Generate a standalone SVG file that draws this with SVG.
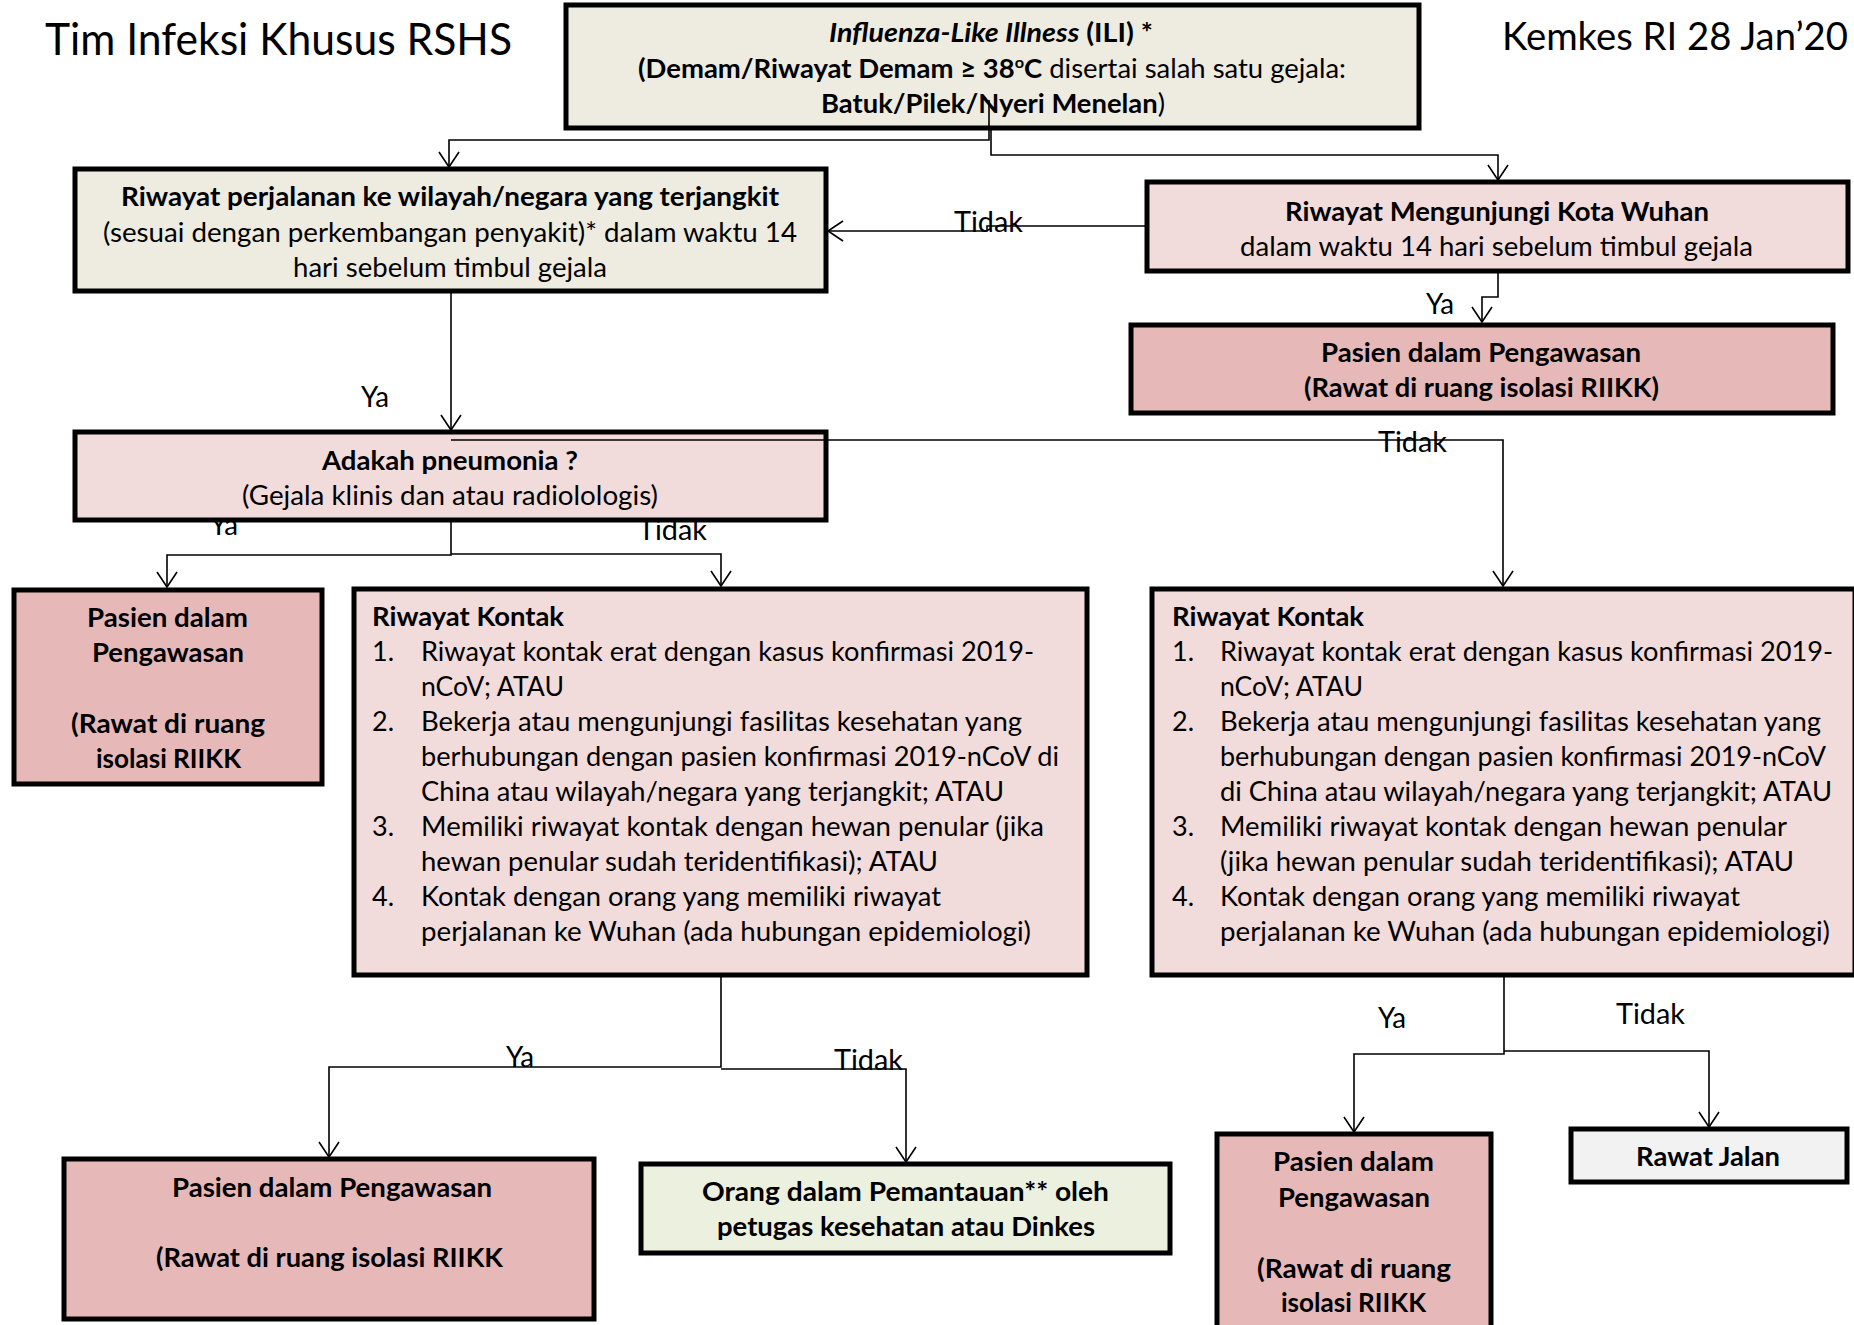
<svg xmlns="http://www.w3.org/2000/svg" width="1854" height="1325" viewBox="0 0 1854 1325">
<defs>
<style>
text{font-family:Lato,"Liberation Sans",sans-serif;font-size:27px;fill:#000}
.b{font-weight:bold}
.lbl{font-size:28px}
.box{stroke:#000;stroke-width:5}
.beige{fill:#EEECE1}
.pink{fill:#F2DCDB}
.rose{fill:#E6B9B8}
.green{fill:#EBF1DE}
.grey{fill:#F2F2F2}
.conn{fill:none;stroke:#000;stroke-width:1.6;marker-end:url(#arr)}
</style>
<marker id="arr" markerUnits="userSpaceOnUse" markerWidth="20" markerHeight="24" viewBox="-17 -12 20 24" refX="0" refY="0" orient="auto" overflow="visible">
<path d="M-15,-10 L0,0 L-15,10" fill="none" stroke="#000" stroke-width="1.6"/>
</marker>
</defs>
<rect width="1854" height="1325" fill="#fff"/>

<g id="titles">
<text x="45" y="55" style="font-size:44px" textLength="467" lengthAdjust="spacingAndGlyphs">Tim Infeksi Khusus RSHS</text>
<text x="1502" y="50" style="font-size:39px" textLength="346" lengthAdjust="spacingAndGlyphs">Kemkes RI 28 Jan’20</text>
</g>

<g id="labels">
<text class="lbl" x="954" y="232" textLength="69" lengthAdjust="spacingAndGlyphs">Tidak</text>
<text class="lbl" x="1426" y="314" textLength="28" lengthAdjust="spacingAndGlyphs">Ya</text>
<text class="lbl" x="361" y="407" textLength="28" lengthAdjust="spacingAndGlyphs">Ya</text>
<text class="lbl" x="1378" y="452" textLength="69" lengthAdjust="spacingAndGlyphs">Tidak</text>
<text class="lbl" x="210" y="535" textLength="28" lengthAdjust="spacingAndGlyphs">Ya</text>
<text class="lbl" x="638" y="540" textLength="69" lengthAdjust="spacingAndGlyphs">Tidak</text>
<text class="lbl" x="506" y="1067" textLength="28" lengthAdjust="spacingAndGlyphs">Ya</text>
<text class="lbl" x="834" y="1070" textLength="69" lengthAdjust="spacingAndGlyphs">Tidak</text>
<text class="lbl" x="1378" y="1028" textLength="28" lengthAdjust="spacingAndGlyphs">Ya</text>
<text class="lbl" x="1616" y="1024" textLength="69" lengthAdjust="spacingAndGlyphs">Tidak</text>
</g>

<g id="node-ili">
<rect class="box beige" x="566" y="5" width="853" height="123"/>
<text x="829" y="42" textLength="324" lengthAdjust="spacingAndGlyphs"><tspan class="b" font-style="italic">Influenza-Like Illness</tspan><tspan class="b"> (ILI) *</tspan></text>
<text x="638" y="78" textLength="708" lengthAdjust="spacingAndGlyphs"><tspan class="b">(Demam/Riwayat Demam ≥ 38</tspan><tspan class="b" style="font-size:16px" dy="-10">o</tspan><tspan class="b" dy="10">C</tspan><tspan> disertai salah satu gejala:</tspan></text>
<text x="821" y="113" textLength="344" lengthAdjust="spacingAndGlyphs"><tspan class="b">Batuk/Pilek/Nyeri Menelan</tspan><tspan>)</tspan></text>
</g>

<g id="node-riwayat-perjalanan">
<rect class="box beige" x="75" y="169" width="751" height="122"/>
<text class="b" x="121" y="206" textLength="658" lengthAdjust="spacingAndGlyphs">Riwayat perjalanan ke wilayah/negara yang terjangkit</text>
<text x="103" y="242" textLength="694" lengthAdjust="spacingAndGlyphs">(sesuai dengan perkembangan penyakit)* dalam waktu 14</text>
<text x="293" y="277" textLength="314" lengthAdjust="spacingAndGlyphs">hari sebelum timbul gejala</text>
</g>

<g id="node-wuhan">
<rect class="box pink" x="1147" y="182" width="701" height="89"/>
<text class="b" x="1285" y="221" textLength="424" lengthAdjust="spacingAndGlyphs">Riwayat Mengunjungi Kota Wuhan</text>
<text x="1240" y="256" textLength="513" lengthAdjust="spacingAndGlyphs">dalam waktu 14 hari sebelum timbul gejala</text>
</g>

<g id="node-pdp-top">
<rect class="box rose" x="1131" y="325" width="702" height="88"/>
<text class="b" x="1321" y="362" textLength="320" lengthAdjust="spacingAndGlyphs">Pasien dalam Pengawasan</text>
<text class="b" x="1304" y="397" textLength="355" lengthAdjust="spacingAndGlyphs">(Rawat di ruang isolasi RIIKK)</text>
</g>

<g id="node-pneumonia">
<rect class="box pink" x="75" y="432" width="751" height="88"/>
<text class="b" x="322" y="470" textLength="256" lengthAdjust="spacingAndGlyphs">Adakah pneumonia ?</text>
<text x="242" y="505" textLength="416" lengthAdjust="spacingAndGlyphs">(Gejala klinis dan atau radiolologis)</text>
</g>

<g id="node-pdp-left">
<rect class="box rose" x="14" y="590" width="308" height="194"/>
<text class="b" x="87" y="627" textLength="161" lengthAdjust="spacingAndGlyphs">Pasien dalam</text>
<text class="b" x="92" y="662" textLength="152" lengthAdjust="spacingAndGlyphs">Pengawasan</text>
<text class="b" x="71" y="733" textLength="194" lengthAdjust="spacingAndGlyphs">(Rawat di ruang</text>
<text class="b" x="96" y="768" textLength="145" lengthAdjust="spacingAndGlyphs">isolasi RIIKK</text>
</g>

<g id="node-kontak-mid">
<rect class="box pink" x="354" y="589" width="733" height="386"/>
<text class="b" x="372" y="626" textLength="192" lengthAdjust="spacingAndGlyphs">Riwayat Kontak</text>
<text x="372" y="661">1.</text>
<text x="421" y="661" textLength="613" lengthAdjust="spacingAndGlyphs">Riwayat kontak erat dengan kasus konfirmasi 2019-</text>
<text x="421" y="696" textLength="143" lengthAdjust="spacingAndGlyphs">nCoV; ATAU</text>
<text x="372" y="731">2.</text>
<text x="421" y="731" textLength="601" lengthAdjust="spacingAndGlyphs">Bekerja atau mengunjungi fasilitas kesehatan yang</text>
<text x="421" y="766" textLength="638" lengthAdjust="spacingAndGlyphs">berhubungan dengan pasien konfirmasi 2019-nCoV di</text>
<text x="421" y="801" textLength="583" lengthAdjust="spacingAndGlyphs">China atau wilayah/negara yang terjangkit; ATAU</text>
<text x="372" y="836">3.</text>
<text x="421" y="836" textLength="623" lengthAdjust="spacingAndGlyphs">Memiliki riwayat kontak dengan hewan penular (jika</text>
<text x="421" y="871" textLength="517" lengthAdjust="spacingAndGlyphs">hewan penular sudah teridentifikasi); ATAU</text>
<text x="372" y="906">4.</text>
<text x="421" y="906" textLength="520" lengthAdjust="spacingAndGlyphs">Kontak dengan orang yang memiliki riwayat</text>
<text x="421" y="941" textLength="610" lengthAdjust="spacingAndGlyphs">perjalanan ke Wuhan (ada hubungan epidemiologi)</text>
</g>

<g id="node-kontak-right">
<rect class="box pink" x="1152" y="589" width="703" height="386"/>
<text class="b" x="1172" y="626" textLength="192" lengthAdjust="spacingAndGlyphs">Riwayat Kontak</text>
<text x="1172" y="661">1.</text>
<text x="1220" y="661" textLength="613" lengthAdjust="spacingAndGlyphs">Riwayat kontak erat dengan kasus konfirmasi 2019-</text>
<text x="1220" y="696" textLength="143" lengthAdjust="spacingAndGlyphs">nCoV; ATAU</text>
<text x="1172" y="731">2.</text>
<text x="1220" y="731" textLength="601" lengthAdjust="spacingAndGlyphs">Bekerja atau mengunjungi fasilitas kesehatan yang</text>
<text x="1220" y="766" textLength="606" lengthAdjust="spacingAndGlyphs">berhubungan dengan pasien konfirmasi 2019-nCoV</text>
<text x="1220" y="801" textLength="612" lengthAdjust="spacingAndGlyphs">di China atau wilayah/negara yang terjangkit; ATAU</text>
<text x="1172" y="836">3.</text>
<text x="1220" y="836" textLength="567" lengthAdjust="spacingAndGlyphs">Memiliki riwayat kontak dengan hewan penular</text>
<text x="1220" y="871" textLength="574" lengthAdjust="spacingAndGlyphs">(jika hewan penular sudah teridentifikasi); ATAU</text>
<text x="1172" y="906">4.</text>
<text x="1220" y="906" textLength="520" lengthAdjust="spacingAndGlyphs">Kontak dengan orang yang memiliki riwayat</text>
<text x="1220" y="941" textLength="610" lengthAdjust="spacingAndGlyphs">perjalanan ke Wuhan (ada hubungan epidemiologi)</text>
</g>

<g id="node-pdp-bottom-left">
<rect class="box rose" x="64" y="1159" width="530" height="160"/>
<text class="b" x="172" y="1197" textLength="320" lengthAdjust="spacingAndGlyphs">Pasien dalam Pengawasan</text>
<text class="b" x="156" y="1267" textLength="347" lengthAdjust="spacingAndGlyphs">(Rawat di ruang isolasi RIIKK</text>
</g>

<g id="node-odp">
<rect class="box green" x="641" y="1164" width="529" height="89"/>
<text class="b" x="702" y="1201" textLength="407" lengthAdjust="spacingAndGlyphs">Orang dalam Pemantauan** oleh</text>
<text class="b" x="717" y="1236" textLength="378" lengthAdjust="spacingAndGlyphs">petugas kesehatan atau Dinkes</text>
</g>

<g id="node-pdp-bottom-right">
<rect class="box rose" x="1217" y="1134" width="274" height="210"/>
<text class="b" x="1273" y="1171" textLength="161" lengthAdjust="spacingAndGlyphs">Pasien dalam</text>
<text class="b" x="1278" y="1207" textLength="152" lengthAdjust="spacingAndGlyphs">Pengawasan</text>
<text class="b" x="1257" y="1278" textLength="194" lengthAdjust="spacingAndGlyphs">(Rawat di ruang</text>
<text class="b" x="1281" y="1312" textLength="145" lengthAdjust="spacingAndGlyphs">isolasi RIIKK</text>
</g>

<g id="node-rawat-jalan">
<rect class="box grey" x="1571" y="1129" width="276" height="53"/>
<text class="b" x="1636" y="1166" textLength="144" lengthAdjust="spacingAndGlyphs">Rawat Jalan</text>
</g>

<g id="connectors">
<path class="conn" d="M989,100 V140 H449 V167"/>
<path class="conn" d="M991,130 V155 H1498 V180"/>
<path class="conn" d="M1145,226 H987 V231 H828"/>
<path class="conn" d="M1498,273 V297 H1482 V322"/>
<path class="conn" d="M451,293 V430"/>
<path class="conn" d="M451,440 H1503 V586"/>
<path class="conn" d="M451,522 V555 H167 V587"/>
<path class="conn" d="M451,554 H721 V586"/>
<path class="conn" d="M721,977 V1067 H329 V1157"/>
<path class="conn" d="M721,1069 H906 V1162"/>
<path class="conn" d="M1504,977 V1054 H1354 V1132"/>
<path class="conn" d="M1504,1051 H1709 V1127"/>
</g>
</svg>
